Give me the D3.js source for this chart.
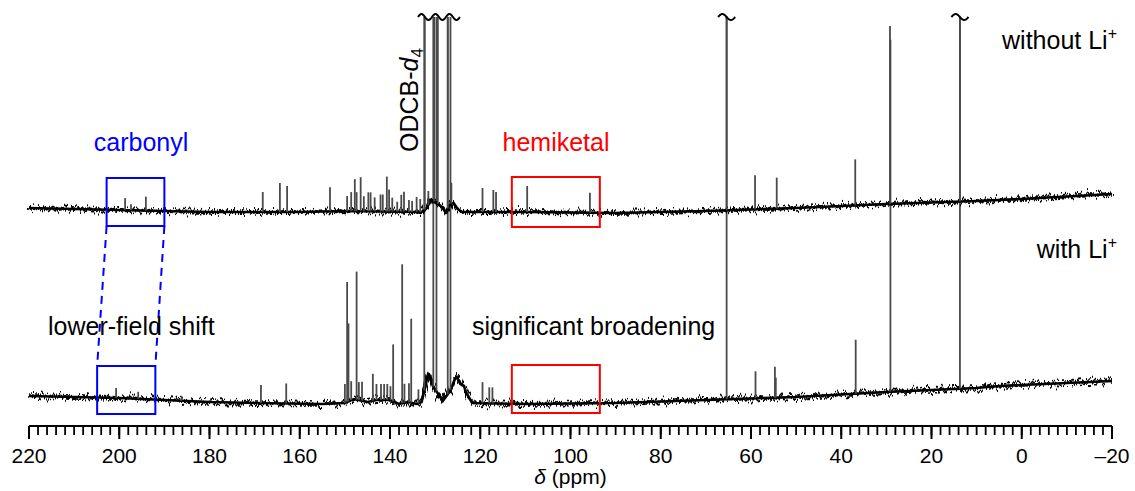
<!DOCTYPE html>
<html><head><meta charset="utf-8">
<script src="https://cdn.jsdelivr.net/npm/d3@7"></script>
<style>
body{margin:0;background:#fff}
svg{display:block}
text{font-family:"Liberation Sans",Arial,Helvetica,sans-serif}
</style>
</head><body>
<svg id="c" width="1135" height="491"></svg>
<script>
// ---- data (ppm, intensity in arbitrary units) ----
const majorTicks = [220,200,180,160,140,120,100,80,60,40,20,0,-20];
const minorTicks = d3.range(220,-21,-2);

// baseline (ppm, level) of spectrum without Li+
const topBaseline = [[220,218],[200,216],[180,214],[160,214],[150,215],[134,214],[133,214],[131.8,218],[131,226],[130,224],[129,221],[128.2,217],[127.7,214],[126.6,222],[125.9,223],[125,217],[124,214],[110,214],[90,213],[70,215],[50,218],[30,222],[10,225],[0,227],[-20,232]];
// baseline (ppm, level) of spectrum with Li+
const bottomBaseline = [[220,30],[200,28],[180,24],[170,23],[155,22],[150,23],[148,27],[145,24],[143,26],[140,26],[138,22],[136,24],[134,22],[133,24],[131.6,51],[130.8,44],[130.5,40],[128.3,25],[126.7,35],[125.6,47],[125.2,49],[124.4,42],[123.6,40],[123.2,34],[121.8,23],[110,22],[90,23],[70,26],[50,29],[30,34],[10,38],[5,40],[-20,45]];

// peaks (ppm, height above baseline); off-scale peaks are cut at the top
const topPeaks = [[198.7,12],[197.4,6],[194.1,14],[168.2,20],[164.4,29],[162.8,26],[153.3,24],[149.5,15],[148.6,19],[147.8,32],[147.4,19],[146.5,34],[145.8,15],[144.8,19],[144.3,19],[143.4,14],[142.1,17],[141.6,17],[140.7,35],[140.2,22],[139.5,14],[138.4,10],[137.5,17],[136.9,20],[135.8,12],[135.1,11],[134.1,15],[133.3,13],[132.3,600],[131.5,14],[130.2,600],[129.4,600],[127.2,600],[126.4,21],[119.5,24],[117.1,22],[116.5,20],[109.6,26],[95.7,20],[65.4,600],[59.1,34],[54.3,31],[36.9,46],[29.2,178],[13.7,600]];
const bottomPeaks = [[200.7,10],[195.8,7],[186.2,5],[168.6,18],[163.0,20],[150.0,19],[149.5,120],[149.2,78],[148.6,19],[147.4,128],[146.9,18],[146.2,19],[143.8,27],[143.0,16],[142.0,16],[141.3,16],[140.6,16],[139.9,14],[139.3,57],[137.3,139],[136.8,19],[135.8,19],[135.3,84],[133.7,14],[132.4,600],[130.4,600],[129.7,600],[127.2,600],[126.6,600],[119.5,21],[118.0,16],[117.3,16],[65.4,600],[59.0,27],[54.7,31],[54.5,20],[36.8,54],[29.1,352],[13.7,600]];

// break marks (ppm from, ppm to, number of waves)
const breakMarks = [[133.8,124.5,3],[67.3,63.5,1],[15.6,11.8,1]];

// highlighted regions (ppm from, ppm to, level low, level high)
const carbonylTop = [202.8,190.0,200,248];
const carbonylBottom = [204.9,192.0,12,60];
const hemiketalTop = [113.0,93.5,199,249];
const hemiketalBottom = [113.0,93.5,13,61];

// ---- drawing ----
const svg = d3.select("#c");
const x = d3.scaleLinear().domain([220,-20]).range([29,1112]);
const y = d3.scaleLinear().domain([0,410]).range([426,16]);
const yMax = 409;

const defs = svg.append("defs");
const f = defs.append("filter").attr("id","noise").attr("filterUnits","userSpaceOnUse")
  .attr("x",0).attr("y",0).attr("width",1135).attr("height",491);
f.append("feTurbulence").attr("type","fractalNoise").attr("baseFrequency","0.45 0.004")
  .attr("numOctaves",3).attr("seed",11).attr("result","t");
f.append("feDisplacementMap").attr("in","SourceGraphic").attr("in2","t").attr("scale",17)
  .attr("xChannelSelector","B").attr("yChannelSelector","G");
const f2 = defs.append("filter").attr("id","noise2").attr("filterUnits","userSpaceOnUse")
  .attr("x",0).attr("y",0).attr("width",1135).attr("height",491);
f2.append("feTurbulence").attr("type","fractalNoise").attr("baseFrequency","0.6 0.004")
  .attr("numOctaves",2).attr("seed",23).attr("result","t");
f2.append("feDisplacementMap").attr("in","SourceGraphic").attr("in2","t").attr("scale",14)
  .attr("xChannelSelector","B").attr("yChannelSelector","G");

const line = d3.line().x(d=>x(d[0])).y(d=>y(d[1])).curve(d3.curveLinear);

function drawTrace(base, peaks){
  const g = svg.append("g");
  const lookup = d3.scaleLinear().domain(base.map(d=>d[0])).range(base.map(d=>d[1]));
  g.append("path").attr("d",line(base)).attr("fill","none").attr("stroke","#000").attr("stroke-width",2.6);
  g.append("path").attr("d",line(base)).attr("fill","none").attr("stroke","#000").attr("stroke-width",1.8).attr("filter","url(#noise)");
  g.append("path").attr("d",line(base)).attr("fill","none").attr("stroke","#000").attr("stroke-width",1.6).attr("filter","url(#noise2)");
  g.selectAll("line.pk").data(peaks).join("line").attr("class","pk")
    .attr("x1",d=>x(d[0])).attr("x2",d=>x(d[0]))
    .attr("y1",d=>y(lookup(d[0])))
    .attr("y2",d=>y(Math.min(lookup(d[0])+d[1], yMax)))
    .attr("stroke","#4a4a4a").attr("stroke-width",1.8);
}
drawTrace(bottomBaseline, bottomPeaks);
drawTrace(topBaseline, topPeaks);

// break marks
breakMarks.forEach(([a,b,n])=>{
  const pts = d3.range(0,1.0001,1/(40*n)).map(t=>[x(a)+(x(b)-x(a))*t, y(yMax) - 3*Math.sin(2*Math.PI*n*t)]);
  svg.append("path").attr("d",d3.line()(pts)).attr("fill","none").attr("stroke","#000").attr("stroke-width",2);
});

// boxes
function box(b,color){
  svg.append("rect").attr("x",x(b[0])).attr("y",y(b[3]))
    .attr("width",x(b[1])-x(b[0])).attr("height",y(b[2])-y(b[3]))
    .attr("fill","none").attr("stroke",color).attr("stroke-width",2);
}
box(carbonylTop,"#0000ff"); box(carbonylBottom,"#0000ff");
box(hemiketalTop,"#ff0000"); box(hemiketalBottom,"#ff0000");
[0,1].forEach(i=>{
  svg.append("line").attr("x1",x(carbonylTop[i])).attr("y1",y(carbonylTop[2]))
    .attr("x2",x(carbonylBottom[i])).attr("y2",y(carbonylBottom[3]))
    .attr("stroke","#0000ff").attr("stroke-width",2).attr("stroke-dasharray","8,6");
});

// axis
const ax = svg.append("g").attr("transform","translate(0,426)");
ax.append("line").attr("x1",x(220)).attr("x2",x(-20)).attr("stroke","#000").attr("stroke-width",2.2);
ax.selectAll("line.mn").data(minorTicks).join("line").attr("class","mn")
  .attr("x1",d=>x(d)).attr("x2",d=>x(d)).attr("y1",0).attr("y2",9).attr("stroke","#000").attr("stroke-width",1.8);
ax.selectAll("line.mj").data(majorTicks).join("line").attr("class","mj")
  .attr("x1",d=>x(d)).attr("x2",d=>x(d)).attr("y1",0).attr("y2",13).attr("stroke","#000").attr("stroke-width",2);
ax.selectAll("text.tl").data(majorTicks).join("text").attr("class","tl")
  .attr("x",d=>x(d)).attr("y",37).attr("text-anchor","middle").attr("font-size",21)
  .text(d=> (d<0?"\u2013":"") + Math.abs(d));
const at = svg.append("text").attr("x",x(100)).attr("y",484).attr("text-anchor","middle").attr("font-size",21);
at.append("tspan").attr("font-style","italic").text("\u03b4");
at.append("tspan").text(" (ppm)");

// labels
const fs = 25;
svg.append("text").attr("x",141).attr("y",151).attr("text-anchor","middle").attr("font-size",fs).attr("fill","#0000ff").text("carbonyl");
svg.append("text").attr("x",556).attr("y",151).attr("text-anchor","middle").attr("font-size",fs).attr("fill","#ff0000").text("hemiketal");
svg.append("text").attr("x",48).attr("y",335).attr("font-size",fs).text("lower-field shift");
svg.append("text").attr("x",472).attr("y",335).attr("font-size",fs).text("significant broadening");
const od = svg.append("text").attr("transform","translate(418,152) rotate(-90)").attr("font-size",fs);
od.append("tspan").text("ODCB-");
od.append("tspan").attr("font-style","italic").text("d");
od.append("tspan").attr("font-size",17).attr("dy",5).text("4");
function liLabel(txt,yy){
  const t = svg.append("text").attr("x",1117).attr("y",yy).attr("text-anchor","end").attr("font-size",fs);
  t.append("tspan").text(txt);
  t.append("tspan").attr("font-size",16).attr("dy",-10).text("+");
}
liLabel("without Li",49);
liLabel("with Li",258);
</script>
</body></html>
